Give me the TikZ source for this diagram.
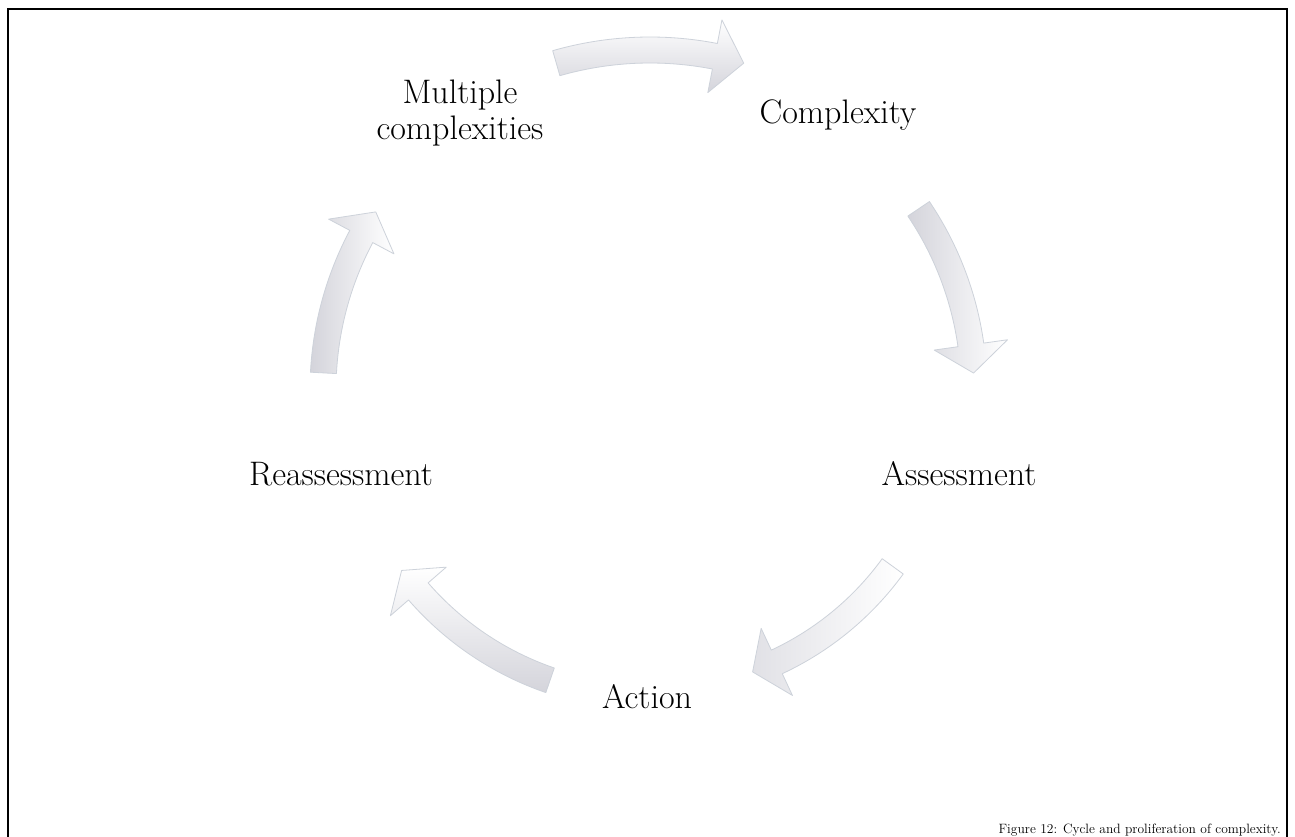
\documentclass[tikz,border=0pt]{standalone}
\usepackage{fontspec}
\definecolor{ag}{RGB}{212,212,219}
\definecolor{arrowedge}{RGB}{205,210,218}
\newcommand\carrow[4]{%
 \pgfmathsetmacro\cArO{#1+13}%
 \pgfmathsetmacro\cArI{#1-13}%
 \pgfmathsetmacro\cArHO{#1+37}%
 \pgfmathsetmacro\cArHI{#1-37}%
 \pgfmathsetmacro\cArB{#3-5}%
 \shadedraw[cyc,#4] ([shift={(C)}]#2:\cArO) arc[start angle=#2,end angle=\cArB,radius=\cArO]
   -- ([shift={(C)}]\cArB:\cArHO) -- ([shift={(C)}]#3:#1) -- ([shift={(C)}]\cArB:\cArHI)
   -- ([shift={(C)}]\cArB:\cArI) arc[start angle=\cArB,end angle=#2,radius=\cArI] -- cycle;
}
\begin{document}
\begin{tikzpicture}[x=1pt,y=-1pt,
  lbl/.style={font=\fontsize{34}{36}\selectfont, anchor=base, align=center, inner sep=0pt},
  cyc/.style={draw=arrowedge, line width=0.8pt, line join=round},
]
\useasboundingbox (0,0) rectangle (1295,836);
\fill[white] (0,0) rectangle (1295,836);
\draw[line width=2.5pt] (8,9) rectangle (1287,880);
\coordinate (C) at (650,390);
\carrow{340}{-106}{-74}{top color=white, bottom color=ag}
\carrow{324}{-34}{-3}{left color=ag, right color=white}
\carrow{300}{36}{70}{left color=ag!70, right color=white}
\carrow{307}{109}{144}{top color=white, bottom color=ag}
\carrow{327}{183}{213}{left color=ag, right color=white}
\node[lbl] (mc) at (460,139) {Multiple\\complexities};
\node[lbl] (cx) at (838,123) {Complexity};
\node[lbl] (as) at (959,485) {Assessment};
\node[lbl] (ac) at (647,708) {Action};
\node[lbl] (re) at (341,485) {Reassessment};
\node[font=\fontsize{13.5}{15}\selectfont, anchor=base east, inner sep=0pt] (cap) at (1281,833) {Figure 12: Cycle and proliferation of complexity.};
\end{tikzpicture}
\end{document}
